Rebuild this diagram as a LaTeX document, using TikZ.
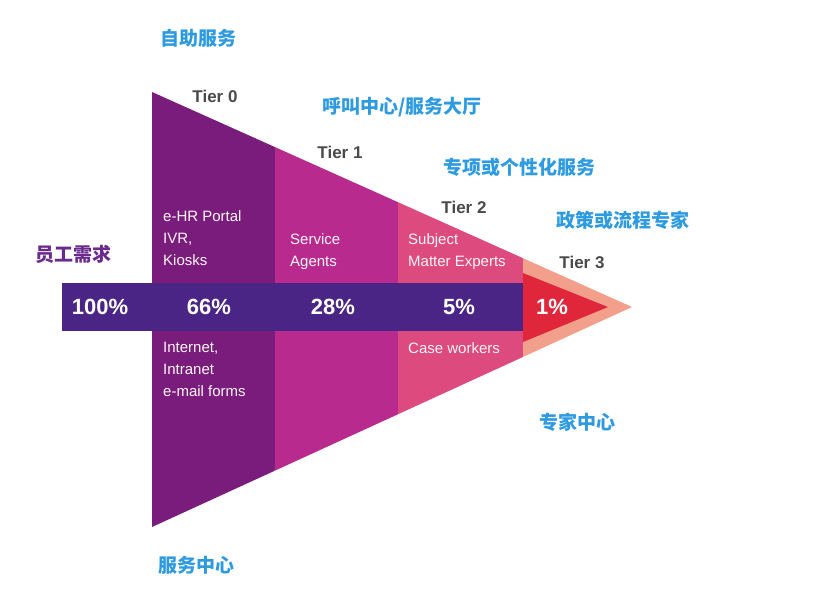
\documentclass[tikz,border=0pt]{standalone}
\usepackage{fontspec}
\setmainfont{Liberation Sans}
\newfontfamily\cjk{Noto Sans CJK SC}
\definecolor{tzero}{HTML}{7A1C7C}
\definecolor{tone}{HTML}{B82A8E}
\definecolor{ttwo}{HTML}{DD4A7D}
\definecolor{tthree}{HTML}{F2A08C}
\definecolor{band}{HTML}{4A2585}
\definecolor{arrowred}{HTML}{E0263A}
\definecolor{cnblue}{HTML}{2E9BE0}
\definecolor{cnpurple}{HTML}{6B2A8E}
\definecolor{tiergrey}{HTML}{4A4A4A}
\begin{document}
\begin{tikzpicture}[x=1pt,y=-1pt,
  cn/.style={font=\cjk\bfseries\fontsize{19}{22}\selectfont,text=cnblue},
  tier/.style={font=\bfseries\fontsize{17}{20}\selectfont,text=tiergrey},
  sec/.style={font=\fontsize{15}{22}\selectfont,text=white!85!pink,align=left,anchor=north west,inner sep=0pt},
  pct/.style={font=\bfseries\fontsize{22}{24}\selectfont,text=white}]
\useasboundingbox (0,0) rectangle (822,592);
\fill[white] (0,0) rectangle (822,592);
\begin{scope}
\clip (152,92) -- (632,307) -- (152,527) -- cycle;
\fill[tzero] (152,80) rectangle (275,540);
\fill[tone] (275,80) rectangle (398,540);
\fill[ttwo] (398,80) rectangle (523,540);
\fill[tthree] (523,80) rectangle (640,540);
\end{scope}
\fill[band] (62,283) rectangle (523,331);
\fill[arrowred] (523,283) -- (523,273) -- (608,307) -- (523,342) -- (523,331) -- cycle;
\node[pct] (p0) at (100,307) {100\%};
\node[pct] (p1) at (209,307) {66\%};
\node[pct] (p2) at (333,307) {28\%};
\node[pct] (p3) at (459,307) {5\%};
\node[pct] (p4) at (552,307) {1\%};
\node[sec] (s0a) at (163,210) {e-HR Portal\\IVR,\\Kiosks};
\node[sec] (s0b) at (163,342) {Internet,\\Intranet\\e-mail forms};
\node[sec] (s1) at (290,233) {Service\\Agents};
\node[sec] (s2a) at (408,233) {Subject\\Matter Experts};
\node[sec] (s2b) at (408,342) {Case workers};
\node[tier] (t0) at (215,96) {Tier 0};
\node[tier] (t1) at (340,152) {Tier 1};
\node[tier] (t2) at (464,207) {Tier 2};
\node[tier] (t3) at (582,262) {Tier 3};
\node[cn] (c0) at (198,38) {自助服务};
\node[cn] (c1) at (402,107) {呼叫中心/服务大厅};
\node[cn] (c2) at (519,167) {专项或个性化服务};
\node[cn] (c3) at (623,220) {政策或流程专家};
\node[cn] (c4) at (577,422) {专家中心};
\node[cn] (c5) at (196,565) {服务中心};
\node[cn,text=cnpurple] (c6) at (73,254) {员工需求};
\end{tikzpicture}
\end{document}
